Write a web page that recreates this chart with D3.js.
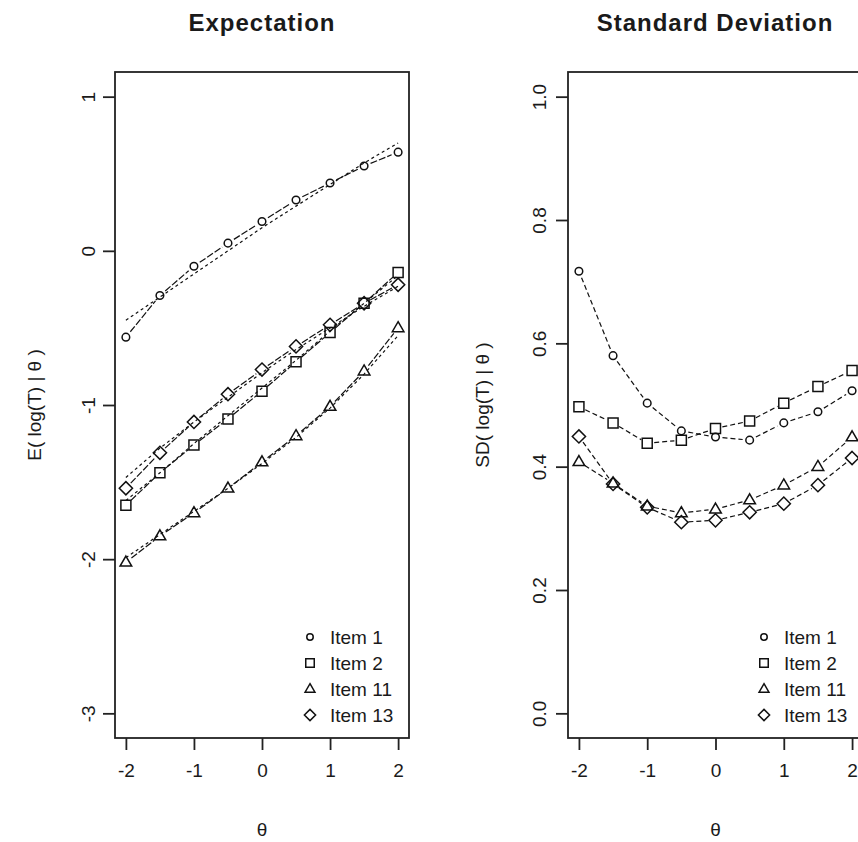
<!DOCTYPE html>
<html>
<head>
<meta charset="utf-8">
<script src="https://cdn.jsdelivr.net/npm/d3@7"></script>
<style>
  body { margin: 0; background: #fff; }
  svg { display: block; }
  text { font-family: "Liberation Sans", Arial, sans-serif; fill: #1a1a1a; }
</style>
</head>
<body>
<div id="chart"></div>
<script>
// theta grid and tick values
var theta = [-2, -1.5, -1, -0.5, 0, 0.5, 1, 1.5, 2];
var thetaTicks = [-2, -1, 0, 1, 2];
var expTicks = [-3, -2, -1, 0, 1];
var sdTicks = [0, 0.2, 0.4, 0.6, 0.8, 1.0];
var itemNames = ["Item 1", "Item 2", "Item 11", "Item 13"];
var itemShapes = ["circle", "square", "triangle", "diamond"];

// Expectation, observed points
var expObs1  = [-0.56, -0.29, -0.10, 0.05, 0.19, 0.33, 0.44, 0.55, 0.64];
var expObs2  = [-1.65, -1.44, -1.26, -1.09, -0.91, -0.72, -0.53, -0.34, -0.14];
var expObs11 = [-2.02, -1.85, -1.70, -1.54, -1.37, -1.20, -1.01, -0.78, -0.50];
var expObs13 = [-1.54, -1.31, -1.11, -0.93, -0.77, -0.62, -0.48, -0.34, -0.22];

// Expectation, model curves
var expModel1  = [-0.45, -0.30, -0.15, 0.00, 0.15, 0.29, 0.43, 0.57, 0.70];
var expModel2  = [-1.62, -1.44, -1.25, -1.07, -0.89, -0.71, -0.52, -0.34, -0.16];
var expModel11 = [-1.99, -1.84, -1.69, -1.54, -1.38, -1.21, -1.02, -0.80, -0.55];
var expModel13 = [-1.47, -1.28, -1.11, -0.95, -0.79, -0.64, -0.50, -0.36, -0.23];

// Standard deviation, observed points
var sdObs1  = [0.717, 0.580, 0.503, 0.458, 0.448, 0.443, 0.471, 0.489, 0.523];
var sdObs2  = [0.497, 0.471, 0.438, 0.443, 0.462, 0.474, 0.503, 0.530, 0.556];
var sdObs11 = [0.408, 0.373, 0.336, 0.325, 0.331, 0.346, 0.370, 0.400, 0.448];
var sdObs13 = [0.449, 0.372, 0.334, 0.310, 0.313, 0.326, 0.340, 0.370, 0.414];

var svgWidth = 858, svgHeight = 842;

var svg = d3.select("#chart")
    .append("svg")
    .attr("width", svgWidth)
    .attr("height", svgHeight);

// marker shape paths, centred on 0,0
function shapePath(shape, s) {
    if (shape == "circle") {
        var r = 3.8 * s;
        return "M" + (-r) + ",0A" + r + "," + r + " 0 1,0 " + r + ",0A" + r + "," + r + " 0 1,0 " + (-r) + ",0Z";
    }
    if (shape == "square") {
        var h = 5 * s;
        return "M" + (-h) + "," + (-h) + "H" + h + "V" + h + "H" + (-h) + "Z";
    }
    if (shape == "triangle") {
        var w = 5.8 * s, t = 6.2 * s, b = 3.8 * s;
        return "M0," + (-t) + "L" + w + "," + b + "L" + (-w) + "," + b + "Z";
    }
    var d = 6.6 * s;
    return "M0," + (-d) + "L" + d + ",0L0," + d + "L" + (-d) + ",0Z";
}

function drawPanel(opt) {
    var x = d3.scaleLinear().domain([-2.16, 2.16]).range([opt.left, opt.right]);
    var y = d3.scaleLinear().domain(opt.ydomain).range([738, 72]);

    var g = svg.append("g");

    // model curves
    var line = d3.line().x(function(d) { return x(d[0]); }).y(function(d) { return y(d[1]); });
    opt.model.forEach(function(vals) {
        g.append("path")
            .attr("d", line(theta.map(function(t, i) { return [t, vals[i]]; })))
            .attr("fill", "none")
            .attr("stroke", "#111")
            .attr("stroke-width", 1.2)
            .attr("stroke-dasharray", "3,3");
    });

    // observed: points joined by lines with gaps (type "b")
    var gap = 7;
    opt.obs.forEach(function(vals, k) {
        for (var i = 0; i < theta.length - 1; i++) {
            var x0 = x(theta[i]), y0 = y(vals[i]), x1 = x(theta[i + 1]), y1 = y(vals[i + 1]);
            var len = Math.sqrt((x1 - x0) * (x1 - x0) + (y1 - y0) * (y1 - y0));
            if (len <= 2 * gap) continue;
            var ux = (x1 - x0) / len, uy = (y1 - y0) / len;
            g.append("line")
                .attr("x1", x0 + ux * gap).attr("y1", y0 + uy * gap)
                .attr("x2", x1 - ux * gap).attr("y2", y1 - uy * gap)
                .attr("stroke", "#111")
                .attr("stroke-width", 1.2)
                .attr("stroke-dasharray", opt.dash);
        }
        g.selectAll(null)
            .data(vals)
            .enter()
            .append("path")
            .attr("d", shapePath(itemShapes[k], 1))
            .attr("transform", function(d, i) { return "translate(" + x(theta[i]) + "," + y(d) + ")"; })
            .attr("fill", "none")
            .attr("stroke", "#111")
            .attr("stroke-width", 1.5);
    });

    // box
    g.append("rect")
        .attr("x", opt.left).attr("y", 72)
        .attr("width", opt.boxRight - opt.left).attr("height", 666)
        .attr("fill", "none")
        .attr("stroke", "#222")
        .attr("stroke-width", 1.8);

    // x axis
    var xAxis = d3.axisBottom(x).tickValues(thetaTicks).tickSize(12).tickSizeOuter(0).tickPadding(14)
        .tickFormat(function(d) { return d; });
    var gx = g.append("g").attr("transform", "translate(0,738)").call(xAxis);
    gx.select(".domain").remove();
    gx.selectAll("line").attr("stroke", "#222").attr("stroke-width", 1.8);
    gx.selectAll("text").attr("font-size", 19).attr("fill", "#1a1a1a")
        .attr("font-family", "Liberation Sans, Arial, sans-serif");

    // y axis, labels parallel to the axis
    var yAxis = d3.axisLeft(y).tickValues(opt.yticks).tickSize(12).tickSizeOuter(0).tickFormat(opt.yfmt);
    var gy = g.append("g").attr("transform", "translate(" + opt.left + ",0)").call(yAxis);
    gy.select(".domain").remove();
    gy.selectAll("line").attr("stroke", "#222").attr("stroke-width", 1.8);
    gy.selectAll("text")
        .attr("x", 0).attr("y", -opt.ylabGap).attr("dy", 0)
        .attr("text-anchor", "middle")
        .attr("transform", "rotate(-90)")
        .attr("font-size", 19).attr("fill", "#1a1a1a")
        .attr("font-family", "Liberation Sans, Arial, sans-serif");

    // axis titles
    g.append("text")
        .attr("x", (opt.left + opt.boxRight) / 2).attr("y", 836)
        .attr("text-anchor", "middle")
        .attr("font-size", 19)
        .text("θ");

    g.append("text")
        .attr("transform", "translate(" + opt.ylabX + ",405) rotate(-90)")
        .attr("text-anchor", "middle")
        .attr("font-size", 19)
        .text(opt.ylab);

    g.append("text")
        .attr("x", opt.titleX).attr("y", 31)
        .attr("text-anchor", "middle")
        .attr("font-size", 24)
        .attr("font-weight", "bold")
        .attr("letter-spacing", "1px")
        .text(opt.title);

    // legend
    var leg = g.append("g").attr("transform", "translate(" + opt.legX + ",637)");
    itemNames.forEach(function(name, k) {
        leg.append("path")
            .attr("d", shapePath(itemShapes[k], 0.85))
            .attr("transform", "translate(0," + (k * 26) + ")")
            .attr("fill", "none")
            .attr("stroke", "#111")
            .attr("stroke-width", 1.5);
        leg.append("text")
            .attr("x", 20).attr("y", k * 26 + 7)
            .attr("font-size", 19)
            .text(name);
    });
}

drawPanel({
    left: 115, right: 409, boxRight: 409,
    ydomain: [-3.16, 1.16], yticks: expTicks, yfmt: function(d) { return d; },
    obs: [expObs1, expObs2, expObs11, expObs13],
    model: [expModel1, expModel2, expModel11, expModel13],
    dash: "7,2",
    ylabGap: 20, ylabX: 41,
    ylab: "E( log(T) | θ )",
    title: "Expectation", titleX: 262,
    legX: 310
});

drawPanel({
    left: 568, right: 863, boxRight: 863,
    ydomain: [-0.04, 1.04], yticks: sdTicks, yfmt: d3.format(".1f"),
    obs: [sdObs1, sdObs2, sdObs11, sdObs13],
    model: [],
    dash: "5,3",
    ylabGap: 22, ylabX: 489,
    ylab: "SD( log(T) | θ )",
    title: "Standard Deviation", titleX: 715,
    legX: 764
});
</script>
</body>
</html>
